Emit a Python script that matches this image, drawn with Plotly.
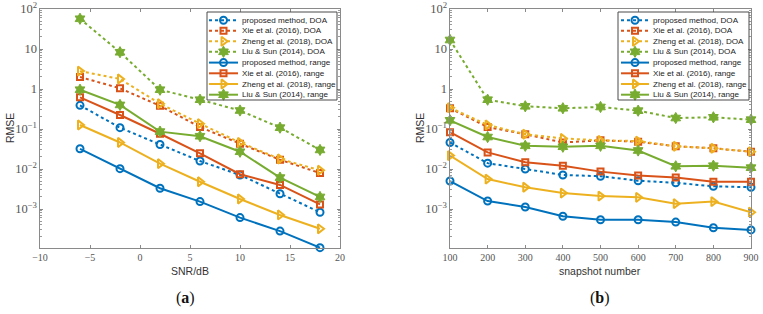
import plotly.graph_objects as go

W, H = 763, 314

# ---------------- data ----------------
snr = [-6, -2, 2, 6, 10, 14, 18]
snap = [100, 200, 300, 400, 500, 600, 700, 800, 900]

names = ["proposed method, DOA", "Xie et al. (2016), DOA", "Zheng et al. (2018), DOA", "Liu & Sun (2014), DOA",
         "proposed method, range", "Xie et al. (2016), range", "Zheng et al. (2018), range", "Liu & Sun (2014), range"]

# (a) RMSE vs SNR
a_prop_doa = [0.39, 0.108, 0.041, 0.0158, 0.0071, 0.0024, 0.00083]
a_xie_doa = [2.0, 1.04, 0.38, 0.112, 0.043, 0.017, 0.0079]
a_zheng_doa = [2.8, 1.78, 0.43, 0.136, 0.046, 0.0178, 0.0093]
a_liu_doa = [57, 8.3, 0.96, 0.54, 0.29, 0.108, 0.030]
a_prop_rng = [0.032, 0.0102, 0.0033, 0.00153, 0.00061, 0.00028, 0.000108]
a_xie_rng = [0.62, 0.224, 0.076, 0.0247, 0.0074, 0.0040, 0.0013]
a_zheng_rng = [0.126, 0.046, 0.0136, 0.0048, 0.00178, 0.00071, 0.00032]
a_liu_rng = [0.96, 0.40, 0.086, 0.066, 0.027, 0.0061, 0.0020]

# (b) RMSE vs snapshot number
b_prop_doa = [0.046, 0.014, 0.010, 0.0071, 0.0066, 0.0051, 0.0045, 0.0037, 0.0035]
b_xie_doa = [0.33, 0.112, 0.074, 0.046, 0.052, 0.048, 0.037, 0.033, 0.027]
b_zheng_doa = [0.34, 0.126, 0.074, 0.058, 0.052, 0.050, 0.037, 0.033, 0.027]
b_liu_doa = [16.8, 0.54, 0.37, 0.33, 0.355, 0.287, 0.188, 0.196, 0.171]
b_prop_rng = [0.0050, 0.00158, 0.00112, 0.00066, 0.00054, 0.00054, 0.00047, 0.00034, 0.00030]
b_xie_rng = [0.083, 0.026, 0.0147, 0.0121, 0.0086, 0.0069, 0.0061, 0.0048, 0.0048]
b_zheng_rng = [0.0216, 0.0056, 0.0035, 0.0025, 0.0021, 0.00196, 0.00136, 0.00153, 0.00083]
b_liu_rng = [0.165, 0.063, 0.038, 0.036, 0.038, 0.029, 0.0117, 0.0121, 0.0108]

a_series = [a_prop_doa, a_xie_doa, a_zheng_doa, a_liu_doa, a_prop_rng, a_xie_rng, a_zheng_rng, a_liu_rng]
b_series = [b_prop_doa, b_xie_doa, b_zheng_doa, b_liu_doa, b_prop_rng, b_xie_rng, b_zheng_rng, b_liu_rng]

# ---------------- styles ----------------
colors = ["#0072BD", "#D95319", "#EDB120", "#77AC30"] * 2
symbols = ["circle-open", "square-open", "triangle-right-open", "hexagram"] * 2
msizes = [7, 6, 8, 8.5] * 2
dashes = ["dot"] * 4 + ["solid"] * 4

fig = go.Figure()


def mk(i):
    return dict(symbol=symbols[i], size=msizes[i], color=colors[i],
                line=dict(color=colors[i], width=2 if i % 4 != 3 else 1))


def add_series(xs, series, xa, ya):
    for i, ys in enumerate(series):
        fig.add_trace(go.Scatter(
            x=xs, y=ys, mode="lines+markers", xaxis=xa, yaxis=ya,
            line=dict(color=colors[i], width=2, dash=dashes[i]),
            marker=mk(i), showlegend=False, cliponaxis=False, hoverinfo="skip"))


add_series(snr, a_series, "x", "y")
add_series(snap, b_series, "x2", "y2")

# ---------------- legends (drawn on a pixel overlay axis) ----------------
row_y = [20.3, 30.8, 41.3, 51.8, 62.6, 73.3, 84.0, 94.7]
legends = [
    dict(box=(207, 12, 337, 100), l0=209, l1=238, tx=240),
    dict(box=(618, 12, 749, 100), l0=621, l1=649, tx=650.5),
]
annotations = []
shapes = []
for lg in legends:
    x0, y0, x1, y1 = lg["box"]
    shapes.append(dict(type="rect", xref="paper", yref="paper",
                       x0=x0 / W, x1=x1 / W, y0=1 - y1 / H, y1=1 - y0 / H,
                       line=dict(color="#4a4a4a", width=1), layer="above"))
    for i, nm in enumerate(names):
        yy = row_y[i]
        fig.add_trace(go.Scatter(x=[lg["l0"], lg["l1"]], y=[yy, yy], mode="lines", xaxis="x3", yaxis="y3",
                                 line=dict(color=colors[i], width=2, dash=dashes[i]),
                                 showlegend=False, hoverinfo="skip"))
        fig.add_trace(go.Scatter(x=[(lg["l0"] + lg["l1"]) / 2], y=[yy], mode="markers", xaxis="x3", yaxis="y3",
                                 marker=mk(i), showlegend=False, hoverinfo="skip"))
        annotations.append(dict(x=lg["tx"], y=yy, xref="x3", yref="y3", text=nm, showarrow=False,
                                xanchor="left", yanchor="middle",
                                font=dict(family="Liberation Sans, Arial", size=8.1, color="#222")))

# axis titles and panel labels
title_font = dict(family="Liberation Sans, Arial", size=10.5, color="#333")
annotations += [
    dict(x=190, y=271, xref="x3", yref="y3", text="SNR/dB", showarrow=False, font=title_font),
    dict(x=600, y=271, xref="x3", yref="y3", text="snapshot number", showarrow=False, font=title_font),
    dict(x=10, y=128, xref="x3", yref="y3", text="RMSE", showarrow=False, textangle=-90, font=title_font),
    dict(x=420, y=128, xref="x3", yref="y3", text="RMSE", showarrow=False, textangle=-90, font=title_font),
    dict(x=185, y=298, xref="x3", yref="y3", text="(<b>a</b>)", showarrow=False,
         font=dict(family="Liberation Serif, DejaVu Serif", size=16, color="#111")),
    dict(x=600, y=298, xref="x3", yref="y3", text="(<b>b</b>)", showarrow=False,
         font=dict(family="Liberation Serif, DejaVu Serif", size=16, color="#111")),
]

tickfont = dict(family="Liberation Serif, DejaVu Serif", size=10, color="#555")
axis_common = dict(showgrid=False, zeroline=False, showline=True, linecolor="#8a8a8a", linewidth=1,
                   mirror="allticks", ticks="inside", ticklen=3, tickcolor="#8a8a8a",
                   tickfont=tickfont)
yaxis_common = dict(axis_common, type="log", range=[-3.975, 2], dtick=1, exponentformat="power",
                    minor=dict(ticks="inside", ticklen=2, tickcolor="#9a9a9a", dtick="D1"))

xd1 = [40 / W, 340 / W]
xd2 = [450 / W, 751 / W]
yd = [1 - 248 / H, 1 - 9 / H]

fig.update_layout(
    width=W, height=H, margin=dict(l=0, r=0, t=0, b=0),
    paper_bgcolor="white", plot_bgcolor="rgba(0,0,0,0)",
    showlegend=False,
    xaxis=dict(axis_common, domain=xd1, range=[-10, 20], dtick=5, anchor="y", automargin=False),
    yaxis=dict(yaxis_common, domain=yd, anchor="x", automargin=False),
    xaxis2=dict(axis_common, domain=xd2, range=[100, 900], dtick=100, anchor="y2", automargin=False),
    yaxis2=dict(yaxis_common, domain=yd, anchor="x2", automargin=False),
    xaxis3=dict(domain=[0, 1], range=[0, W], visible=False, anchor="y3", fixedrange=True),
    yaxis3=dict(domain=[0, 1], range=[H, 0], visible=False, anchor="x3", fixedrange=True),
    shapes=shapes, annotations=annotations,
)

fig.write_html("out.html")
